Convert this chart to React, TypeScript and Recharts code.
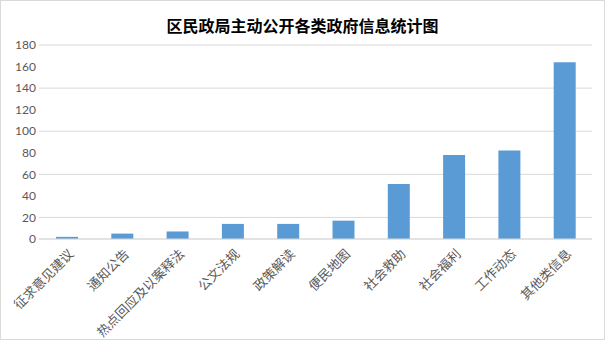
import React from "react"
import { BarChart, Bar, XAxis, YAxis, CartesianGrid } from "recharts"

const categories = ["征求意见建议", "通知公告", "热点回应及以案释法", "公文法规", "政策解读", "便民地图", "社会救助", "社会福利", "工作动态", "其他类信息"]
const counts = [2, 5, 7, 14, 14, 17, 51, 78, 82, 164]
const yTicks = [0, 20, 40, 60, 80, 100, 120, 140, 160, 180]

const data = categories.map((name, i) => ({ name, value: counts[i] }))

const font = "'Noto Sans CJK SC', 'Noto Sans', sans-serif"

function CategoryTick(props: any) {
    const { x, y, payload } = props
    return (
        <g transform={`translate(${x + 4},${y + 4})`}>
            <text
                transform="rotate(-45)"
                textAnchor="end"
                dominantBaseline="central"
                fill="#595959"
                fontSize={13}
                fontFamily={font}
            >
                {payload.value}
            </text>
        </g>
    )
}

export default function App() {
    return (
        <div
            style={{
                position: "fixed",
                left: 0,
                top: 0,
                width: 605,
                height: 340,
                boxSizing: "border-box",
                border: "1px solid #d9d9d9",
                background: "#fff",
            }}
        >
            <div
                style={{
                    position: "absolute",
                    top: 13,
                    left: 0,
                    width: "100%",
                    textAlign: "center",
                    fontFamily: font,
                    fontWeight: "bold",
                    fontSize: 16,
                    lineHeight: "22px",
                    color: "#000",
                }}
            >
                区民政局主动公开各类政府信息统计图
            </div>
            <BarChart
                width={603}
                height={338}
                data={data}
                margin={{ top: 44, right: 12, left: 0, bottom: 0 }}
            >
                <CartesianGrid vertical={false} stroke="#d9d9d9" />
                <XAxis
                    dataKey="name"
                    interval={0}
                    height={100}
                    tickLine={false}
                    axisLine={{ stroke: "#d9d9d9" }}
                    tick={<CategoryTick />}
                />
                <YAxis
                    width={38}
                    domain={[0, 180]}
                    ticks={yTicks}
                    tickLine={false}
                    axisLine={false}
                    tickSize={0}
                    tickMargin={3}
                    tick={{ fill: "#595959", fontSize: 12, fontFamily: "Lato, 'Open Sans', sans-serif" }}
                />
                <Bar dataKey="value" fill="#5b9bd5" barSize={22} isAnimationActive={false} />
            </BarChart>
        </div>
    )
}
